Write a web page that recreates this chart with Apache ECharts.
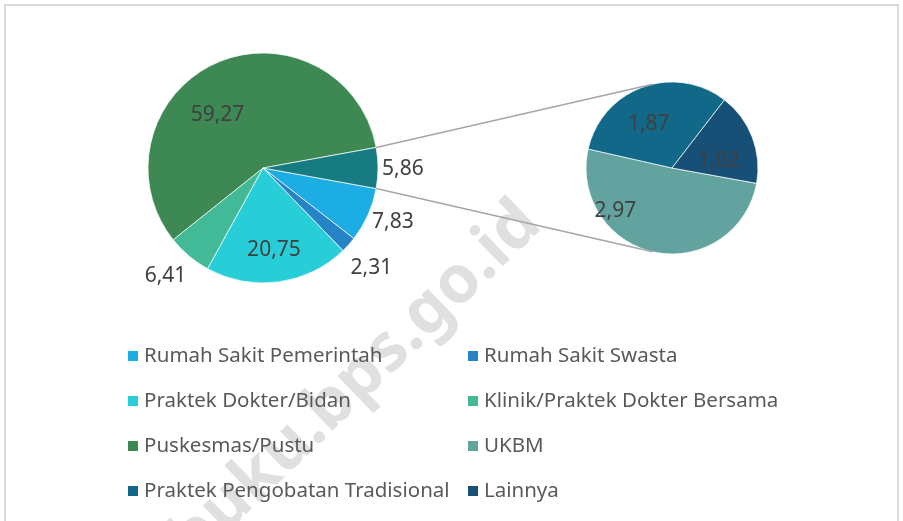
<!DOCTYPE html>
<html>
<head>
<meta charset="utf-8">
<script src="https://cdn.jsdelivr.net/npm/echarts@6/dist/echarts.min.js"></script>
<style>
  html, body { margin: 0; padding: 0; background: #fff; }
  #main { width: 903px; height: 521px; }
</style>
</head>
<body>
<div id="main"></div>
<script>
// data utama (pie kiri)
const mainNames = ['Rumah Sakit Pemerintah', 'Rumah Sakit Swasta', 'Praktek Dokter/Bidan', 'Klinik/Praktek Dokter Bersama', 'Puskesmas/Pustu'];
const mainValues = [7.83, 2.31, 20.75, 6.41, 59.27];
// data yang dipecah ke pie kanan
const subNames = ['UKBM', 'Praktek Pengobatan Tradisional', 'Lainnya'];
const subValues = [2.97, 1.87, 1.02];
const otherName = 'Lainnya (gabungan)';

const mainColors = ['#1CADE4', '#2683C6', '#27CED7', '#42BA97', '#3E8853'];
const otherColor = '#177C81';
const subColors = ['#62A39F', '#116889', '#174F77'];

// geometri pie
const C1 = [263, 168], R1 = 115;
const C2 = [672, 168], R2 = 86;

const otherValue = +subValues.reduce((a, b) => a + b, 0).toFixed(2);
const allMain = mainValues.concat([otherValue]);
const totalMain = allMain.reduce((a, b) => a + b, 0);
const totalSub = subValues.reduce((a, b) => a + b, 0);
// slice "lainnya" dipusatkan di arah jam 3
const halfOther = 180 * otherValue / totalMain;
const startA = -halfOther;

function midAngles(vals, total, start) {
  let cum = 0;
  return vals.map(v => {
    const m = start - 360 * (cum + v / 2) / total;
    cum += v;
    return m;
  });
}
const mainMid = midAngles(allMain, totalMain, startA);
const subMid = midAngles(subValues, totalSub, startA);

function polar(c, r, deg) {
  const a = deg * Math.PI / 180;
  return [c[0] + r * Math.cos(a), c[1] - r * Math.sin(a)];
}

// label di dalam: [geser sudut, fraksi radius]
const mainInner = { 2: [0, 0.72], 4: [16, 0.61] };
const subInner = { 0: [-41, 0.83], 1: [8, 0.58], 2: [-12, 0.55] };
// label di luar: geser kecil supaya mirip excel
const mainOuterShift = { 0: [0, -4], 1: [3, 6], 3: [-7, 1], 5: [0, 1] };

const fmt = p => p.value.toFixed(2).replace('.', ',');
const labelFont = { fontFamily: 'Noto Sans', fontSize: 21, color: '#404040' };

const chart = echarts.init(document.getElementById('main'));

const mainData = allMain.map((v, i) => ({
  name: i < mainNames.length ? mainNames[i] : otherName,
  value: v,
  itemStyle: { color: i < mainColors.length ? mainColors[i] : otherColor }
}));
const subData = subValues.map((v, i) => ({
  name: subNames[i], value: v, itemStyle: { color: subColors[i] }
}));

const legendText = { fontFamily: 'Noto Sans', fontSize: 20.5, color: '#595959', lineHeight: 22 };

const option = {
  backgroundColor: '#fff',
  animation: false,
  legend: [
    {
      left: 121, top: 340, orient: 'vertical', icon: 'rect',
      itemWidth: 12, itemHeight: 12, itemGap: 23, selectedMode: false,
      textStyle: legendText,
      data: [mainNames[0], mainNames[2], mainNames[4], subNames[1]]
    },
    {
      left: 461, top: 340, orient: 'vertical', icon: 'rect',
      itemWidth: 12, itemHeight: 12, itemGap: 23, selectedMode: false,
      textStyle: legendText,
      data: [mainNames[1], mainNames[3], subNames[0], subNames[2]]
    }
  ],
  graphic: [
    {
      type: 'rect', z: -10, silent: true,
      shape: { x: 5, y: 5, width: 893, height: 540 },
      style: { fill: 'none', stroke: '#D9D9D9', lineWidth: 2 }
    },
    {
      type: 'text', z: -5, silent: true,
      x: 356, y: 382, rotation: 44 * Math.PI / 180,
      style: {
        text: 'buku.bps.go.id', fill: '#E0E0E0',
        font: 'bold 66px "Noto Sans"', align: 'center', verticalAlign: 'middle'
      }
    },
    {
      type: 'line', z: 5, silent: true,
      shape: (() => { const a = polar(C1, R1, halfOther), b = polar(C2, R2, 103); return { x1: a[0], y1: a[1], x2: b[0], y2: b[1] }; })(),
      style: { stroke: '#A6A6A6', lineWidth: 1.5 }
    },
    {
      type: 'line', z: 5, silent: true,
      shape: (() => { const a = polar(C1, R1, -halfOther), b = polar(C2, R2, -103); return { x1: a[0], y1: a[1], x2: b[0], y2: b[1] }; })(),
      style: { stroke: '#A6A6A6', lineWidth: 1.5 }
    }
  ],
  series: [
    {
      type: 'pie',
      center: C1,
      radius: R1,
      startAngle: startA,
      clockwise: true,
      avoidLabelOverlap: false,
      itemStyle: { borderColor: '#fff', borderWidth: 0.7 },
      emphasis: { disabled: true },
      label: Object.assign({ show: true, position: 'inside', formatter: fmt }, labelFont),
      labelLine: { show: false },
      labelLayout: function (p) {
        const i = p.dataIndex;
        let pt;
        if (mainInner[i]) {
          pt = polar(C1, R1 * mainInner[i][1], mainMid[i] + mainInner[i][0]);
        } else {
          const a = mainMid[i] * Math.PI / 180;
          const w = p.labelRect.width, h = p.labelRect.height;
          const d = R1 + 4 + Math.abs(w / 2 * Math.cos(a)) + Math.abs(h / 2 * Math.sin(a));
          pt = polar(C1, d, mainMid[i]);
          const sh = mainOuterShift[i] || [0, 0];
          pt = [pt[0] + sh[0], pt[1] + sh[1]];
        }
        return { x: pt[0], y: pt[1], align: 'center', verticalAlign: 'middle' };
      },
      data: mainData
    },
    {
      type: 'pie',
      center: C2,
      radius: R2,
      startAngle: startA,
      clockwise: true,
      avoidLabelOverlap: false,
      itemStyle: { borderColor: '#fff', borderWidth: 0.7 },
      emphasis: { disabled: true },
      label: Object.assign({ show: true, position: 'inside', formatter: fmt }, labelFont),
      labelLine: { show: false },
      labelLayout: function (p) {
        const i = p.dataIndex;
        const s = subInner[i];
        const pt = polar(C2, R2 * s[1], subMid[i] + s[0]);
        return { x: pt[0], y: pt[1], align: 'center', verticalAlign: 'middle' };
      },
      data: subData
    }
  ]
};

chart.setOption(option);
</script>
</body>
</html>
